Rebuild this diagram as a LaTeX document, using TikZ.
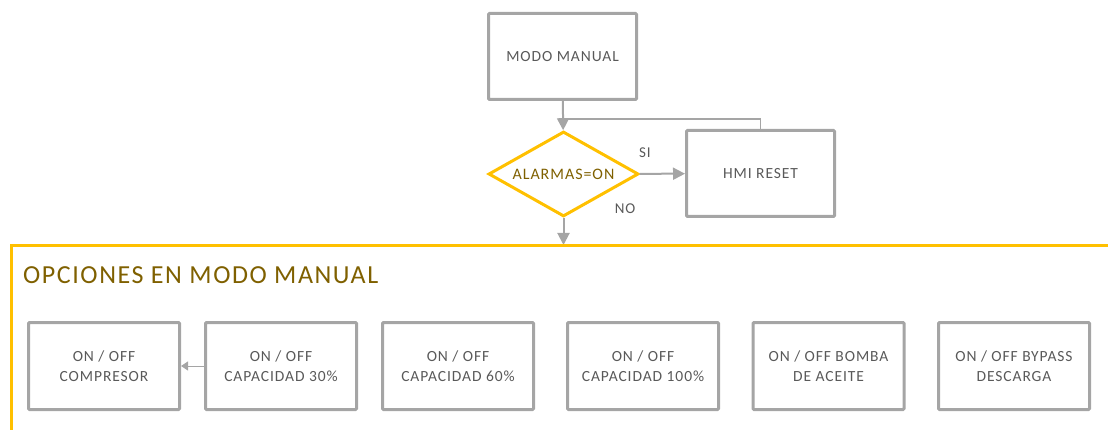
\documentclass[tikz,border=0pt]{standalone}
\usepackage{fontspec}
\setmainfont{Carlito}[LetterSpace=6]
\usetikzlibrary{shapes.geometric,arrows.meta,positioning}

\definecolor{boxgray}{HTML}{A5A5A5}
\definecolor{textgray}{HTML}{595959}
\definecolor{alarmyellow}{HTML}{FFC000}
\definecolor{darkgold}{HTML}{7F6000}

\begin{document}
\begin{tikzpicture}[x=1pt,y=-1pt,
    stepbox/.style={draw=boxgray, line width=3pt, rectangle, rounded corners=1pt, minimum width=148pt, minimum height=86pt, text=textgray, font=\fontsize{15.5}{20}\selectfont, align=center},
    optbox/.style={stepbox, minimum width=151pt, minimum height=87pt},
    decision/.style={draw=alarmyellow, line width=3pt, diamond, aspect=1.7, inner sep=0pt, minimum width=150pt, minimum height=85pt, text=darkgold, font=\fontsize{16}{19}\selectfont},
    flow/.style={draw=boxgray, line width=2pt, -{Triangle[length=12pt,width=12pt]}},
    lbl/.style={text=textgray, font=\fontsize{15}{18}\selectfont}]
    \useasboundingbox (0,0) rectangle (1108,430);

    % upper part
    \node (modo) [stepbox] at (562.5,56.5) {MODO MANUAL};
    \node (alarmas) [decision] at (563.5,174) {ALARMAS=ON};
    \node (hmi) [stepbox] at (760.5,173.5) {HMI RESET};
    \coordinate (loop) at (563.5,119);
    \coordinate (frame) at (563.5,245);

    \draw [flow] (modo) -- (alarmas);
    \draw [flow] (alarmas) -- (hmi);
    \draw [flow] (alarmas) -- (frame);
    \draw [draw=boxgray, line width=1.5pt] (hmi.north) |- (loop);
    \node (si) [lbl] at (645,153) {SI};
    \node (no) [lbl] at (625,209) {NO};

    % options frame
    \draw [alarmyellow, line width=3pt] (11,432) -- (11,246) -- (1110,246);
    \node (titulo) [anchor=west, text=darkgold, font=\fontsize{26}{28}\selectfont, inner sep=0pt] at (23,275) {OPCIONES EN MODO MANUAL};

    \node (compresor) [optbox] at (104,366) {ON / OFF\\COMPRESOR};
    \node (cap30) [optbox] at (281,366) {ON / OFF\\CAPACIDAD 30\%};
    \node (cap60) [optbox] at (458,366) {ON / OFF\\CAPACIDAD 60\%};
    \node (cap100) [optbox] at (643,366) {ON / OFF\\CAPACIDAD 100\%};
    \node (bomba) [optbox] at (828.5,366) {ON / OFF BOMBA\\DE ACEITE};
    \node (bypass) [optbox] at (1014,366) {ON / OFF BYPASS\\DESCARGA};

    \draw [draw=boxgray, line width=1pt, -{Triangle[length=7pt,width=9pt]}] (cap30) -- (compresor);
\end{tikzpicture}
\end{document}
